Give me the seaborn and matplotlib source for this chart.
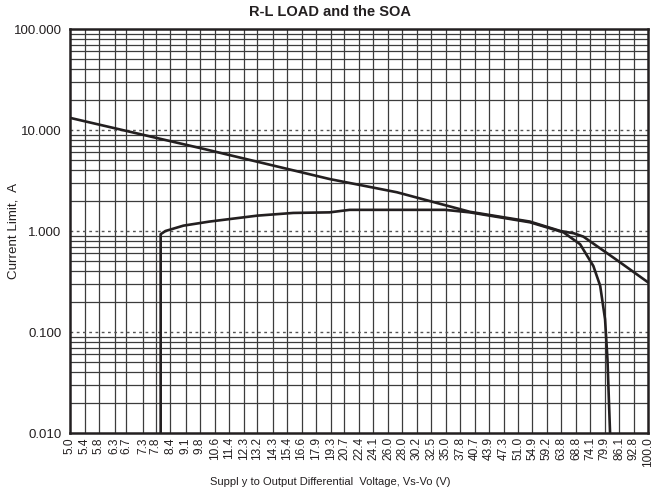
import matplotlib
matplotlib.use("Agg")
import matplotlib.pyplot as plt
import seaborn as sns
import pandas as pd
from matplotlib.ticker import FixedLocator, NullLocator, FuncFormatter

# x tick labels (log-even steps from 5 V to 100 V)
volt_ticks = [5.0, 5.4, 5.8, 6.3, 6.7, 7.3, 7.8, 8.4, 9.1, 9.8, 10.6, 11.4, 12.3,
              13.2, 14.3, 15.4, 16.6, 17.9, 19.3, 20.7, 22.4, 24.1, 26.0, 28.0,
              30.2, 32.5, 35.0, 37.8, 40.7, 43.9, 47.3, 51.0, 54.9, 59.2, 63.8,
              68.8, 74.1, 79.9, 86.1, 92.8, 100.0]
amp_ticks = [0.01, 0.1, 1.0, 10.0, 100.0]

# SOA limit curve
soa_v = [5.0, 10.0, 19.2, 27.2, 39.7, 54.2, 63.5, 68.0, 71.5, 84.3, 100.0]
soa_i = [13.2, 6.5, 3.27, 2.42, 1.55, 1.24, 1.0, 0.95, 0.88, 0.53, 0.31]

# R-L load curve
load_v = [8.0, 8.0, 8.2, 9.0, 10.3, 13.2, 15.9, 19.2, 21.3, 34.9, 39.7, 54.2,
          64.5, 70.3, 75.3, 78.0, 80.0, 81.0, 82.1]
load_i = [0.01, 0.93, 1.0, 1.13, 1.24, 1.42, 1.51, 1.53, 1.62, 1.62, 1.53, 1.22,
          0.97, 0.74, 0.45, 0.287, 0.134, 0.054, 0.01]

df_soa = pd.DataFrame({"v": soa_v, "i": soa_i})
df_load = pd.DataFrame({"v": load_v, "i": load_i})

sns.set_style("white")
plt.rcParams["font.family"] = ["Liberation Sans", "DejaVu Sans"]

fig = plt.figure(figsize=(6.6, 4.96), dpi=100)
ax = fig.add_axes([0.106, 0.127, 0.876, 0.8145])
ax.set_xscale("log")
ax.set_yscale("log")
ax.set_xlim(5.0, 100.0)
ax.set_ylim(0.01, 100.0)

# grid
grid_col = "#3c3c3c"
for v in volt_ticks[1:-1]:
    ax.axvline(v, color=grid_col, lw=0.9, zorder=1)
for dec in [0.01, 0.1, 1.0, 10.0]:
    for m in range(2, 10):
        ax.axhline(dec * m, color=grid_col, lw=0.9, zorder=1)
for y in amp_ticks[1:-1]:
    ax.axhline(y, color="#555555", lw=1.0, ls=(0, (2, 2.5)), zorder=1)

sns.lineplot(data=df_soa, x="v", y="i", sort=False, estimator=None,
             color="#231f20", lw=1.9, ax=ax, zorder=3)
sns.lineplot(data=df_load, x="v", y="i", sort=False, estimator=None,
             color="#231f20", lw=1.9, ax=ax, zorder=3)

ax.xaxis.set_major_locator(FixedLocator(volt_ticks))
ax.xaxis.set_minor_locator(NullLocator())
ax.xaxis.set_major_formatter(FuncFormatter(lambda x, p: f"{x:.1f}"))
ax.yaxis.set_major_locator(FixedLocator(amp_ticks))
ax.yaxis.set_minor_locator(NullLocator())
ax.yaxis.set_major_formatter(FuncFormatter(lambda y, p: f"{y:.3f}"))
ax.tick_params(axis="x", length=0, pad=3, labelsize=8.6, rotation=90, colors="#231f20")
ax.tick_params(axis="y", length=0, pad=6, labelsize=9.5, colors="#231f20")

for s in ax.spines.values():
    s.set_visible(True)
    s.set_color("#231f20")
    s.set_linewidth(1.8)

fig.text(0.5, 0.976, "R-L LOAD and the SOA", fontsize=10.5, fontweight="bold",
         color="#231f20", ha="center", va="center")
ax.set_xlabel("")
ax.set_ylabel("Current Limit,  A", fontsize=9.6, color="#231f20")
ax.yaxis.set_label_coords(-0.0865, 0.5)
fig.text(0.5, 0.028, "Suppl y to Output Differential  Voltage, Vs-Vo (V)",
         fontsize=8.0, color="#231f20", ha="center", va="center")

fig.savefig("out.png", dpi=100)
